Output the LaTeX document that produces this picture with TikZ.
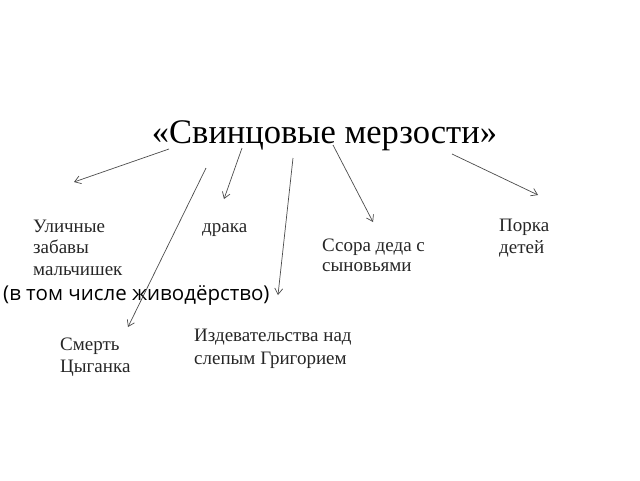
\documentclass[tikz,border=0pt]{standalone}
\usepackage{fontspec}
\setmainfont{Liberation Serif}
\newfontfamily\parfont{Open Sans}
\usetikzlibrary{arrows.meta}
\tikzset{
  lbl/.style={anchor=base west, inner sep=0pt, align=left, font=\fontsize{19}{21.5}\selectfont, text=black!85},
  arr/.style={draw=black!70, line width=0.7pt, -{Straight Barb[length=6pt,width=8pt]}}
}
\begin{document}
\begin{tikzpicture}[x=1pt,y=-1pt]
\useasboundingbox[fill=white] (0,0) rectangle (640,480);
\node[anchor=base, inner sep=0pt, font=\fontsize{34.5}{40}\selectfont] (title) at (324.5,143) {«Свинцовые мерзости»};
% base anchor = baseline of the last line
\node[lbl] (ulich) at (33,275) {Уличные\\забавы\\мальчишек};
\node[lbl] (draka) at (202,232) {драка};
\node[lbl, font=\fontsize{19}{20}\selectfont] (ssora) at (322,271) {Ссора деда с\\сыновьями};
\node[lbl] (porka) at (499,253) {Порка\\детей};
\node[lbl] (smert) at (60,372) {Смерть\\Цыганка};
\node[lbl, font=\fontsize{19}{23}\selectfont] (izdev) at (194,364) {Издевательства над\\слепым Григорием};
\node[anchor=base west, inner sep=0pt, font=\parfont\fontsize{20.5}{24}\selectfont] (vtom) at (3,300) {(в том числе живодёрство)};
\coordinate (s1) at (169,149); \coordinate (e1) at (74,182);
\coordinate (s2) at (242,148); \coordinate (e2) at (224,199);
\coordinate (s3) at (206,168); \coordinate (e3) at (128,327);
\coordinate (s4) at (293,158); \coordinate (e4) at (278,295);
\coordinate (s5) at (333,145); \coordinate (e5) at (373,222);
\coordinate (s6) at (452,154); \coordinate (e6) at (538,195);
\draw[arr] (s1) -- (e1);
\draw[arr] (s2) -- (e2);
\draw[arr] (s3) -- (e3);
\draw[arr] (s4) -- (e4);
\draw[arr] (s5) -- (e5);
\draw[arr] (s6) -- (e6);
\end{tikzpicture}
\end{document}
